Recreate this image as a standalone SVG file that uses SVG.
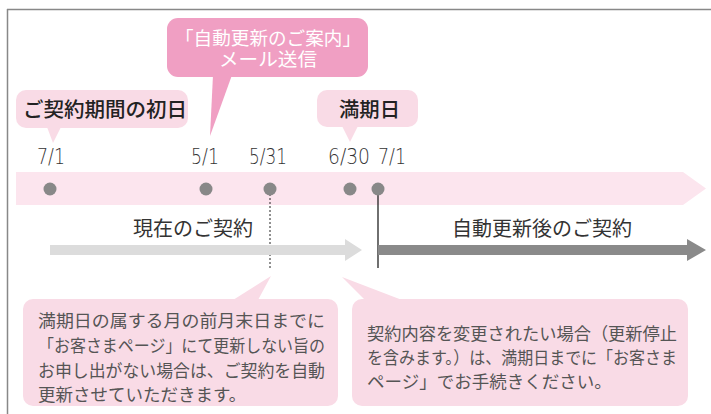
<svg xmlns="http://www.w3.org/2000/svg" width="711" height="414" viewBox="0 0 711 414">
<style>
.jp{font-family:"Noto Sans CJK JP","Noto Sans",sans-serif}
.num{font-family:"DejaVu Sans","Liberation Sans",sans-serif;font-weight:200;font-size:22px;fill:#333}
.lbl{font-size:20px;fill:#222;font-weight:500}
.bar{font-size:20px;fill:#333}
.body{font-size:17.5px;fill:#555}
.lp{fill:#f9dbe6}
.dot{fill:#888}
</style>
<rect width="711" height="414" fill="#fff"/>
<g id="frame" fill="none" stroke="#888" stroke-width="1.5">
<line x1="7" y1="9.5" x2="711" y2="9.5"/>
<line x1="7.5" y1="9" x2="7.5" y2="414"/>
</g>
<g id="band"><polygon points="16,172 683,172 706,188.5 683,205 16,205" fill="#fce5ee"/></g>
<g id="connectors">
<line x1="270" y1="190" x2="270" y2="268" stroke="#222" stroke-width="1" stroke-dasharray="2,2"/>
<line x1="378" y1="190" x2="378" y2="268" stroke="#222" stroke-width="1.3"/>
<polygon points="50,245 345,245 345,239 362,250 345,261 345,255 50,255" fill="#dcdcdc"/>
<polygon points="378,245 687,245 687,239 706,250 687,261 687,255 378,255" fill="#8a8a8a"/>
</g>
<g id="dots">
<circle class="dot" cx="50" cy="189" r="6.5"/>
<circle class="dot" cx="206" cy="189" r="6.5"/>
<circle class="dot" cx="270" cy="189" r="6.5"/>
<circle class="dot" cx="350" cy="189" r="6.5"/>
<circle class="dot" cx="378" cy="189" r="6.5"/>
</g>
<g id="dates">
<text class="num" x="37" y="164" textLength="28" lengthAdjust="spacingAndGlyphs">7/1</text>
<text class="num" x="191" y="164" textLength="28" lengthAdjust="spacingAndGlyphs">5/1</text>
<text class="num" x="249" y="164" textLength="38" lengthAdjust="spacingAndGlyphs">5/31</text>
<text class="num" x="328" y="164" textLength="42" lengthAdjust="spacingAndGlyphs">6/30</text>
<text class="num" x="378" y="164" textLength="28" lengthAdjust="spacingAndGlyphs">7/1</text>
</g>
<g id="mail-bubble">
<rect x="167" y="18" width="201" height="59" rx="11" fill="#f09fc3"/>
<polygon points="213,75 232,75 210,136" fill="#f09fc3"/>
<text class="jp" x="268" y="45" font-size="18.5" fill="#fff" text-anchor="middle" textLength="186" lengthAdjust="spacingAndGlyphs">「自動更新のご案内」</text>
<text class="jp" x="268" y="66" font-size="18.5" fill="#fff" text-anchor="middle" textLength="98" lengthAdjust="spacingAndGlyphs">メール送信</text>
</g>
<g id="start-bubble">
<rect class="lp" x="16" y="90" width="172" height="38" rx="10"/>
<polygon class="lp" points="47,127 61,127 53,143"/>
<text class="jp lbl" x="23" y="117" textLength="164" lengthAdjust="spacingAndGlyphs">ご契約期間の初日</text>
</g>
<g id="end-bubble">
<rect class="lp" x="317" y="90" width="101" height="37" rx="10"/>
<polygon class="lp" points="342,126 358,126 350,142"/>
<text class="jp lbl" x="339" y="117" textLength="61" lengthAdjust="spacingAndGlyphs">満期日</text>
</g>
<g id="current-label">
<text class="jp bar" x="133" y="236">現在のご契約</text>
</g>
<g id="renewed-label">
<text class="jp bar" x="452" y="236">自動更新後のご契約</text>
</g>
<g id="note-left">
<rect class="lp" x="23" y="299" width="315" height="107" rx="10"/>
<polygon class="lp" points="233,300 258,300 271,276"/>
<text class="jp body" x="38" y="327" textLength="287" lengthAdjust="spacingAndGlyphs">満期日の属する月の前月末日までに</text>
<text class="jp body" x="38" y="352" textLength="287" lengthAdjust="spacingAndGlyphs">「お客さまページ」にて更新しない旨の</text>
<text class="jp body" x="38" y="377" textLength="287" lengthAdjust="spacingAndGlyphs">お申し出がない場合は、ご契約を自動</text>
<text class="jp body" x="38" y="401">更新させていただきます。</text>
</g>
<g id="note-right">
<rect class="lp" x="352" y="299" width="336" height="107" rx="10"/>
<polygon class="lp" points="342,277 402,300 365,300"/>
<text class="jp body" x="367" y="340" textLength="310" lengthAdjust="spacingAndGlyphs">契約内容を変更されたい場合（更新停止</text>
<text class="jp body" x="367" y="364" textLength="310" lengthAdjust="spacingAndGlyphs">を含みます。）は、満期日までに「お客さま</text>
<text class="jp body" x="367" y="388">ページ」でお手続きください。</text>
</g>
</svg>
